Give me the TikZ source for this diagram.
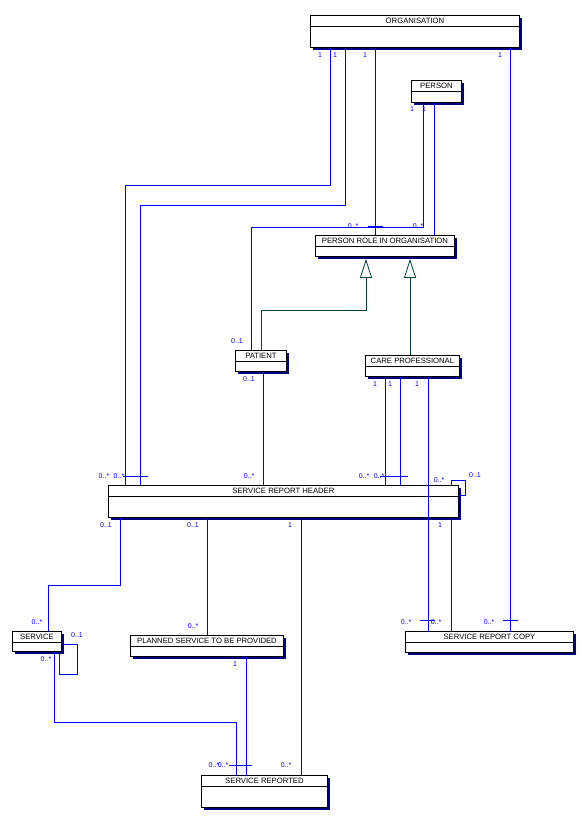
\documentclass[tikz,border=0pt]{standalone}
\usepackage{fontspec}
\setmainfont{Liberation Sans}
\usetikzlibrary{arrows.meta, shadows}
\definecolor{myblue}{RGB}{0,0,255}
\definecolor{mynavy}{RGB}{0,0,128}
\definecolor{myteal}{RGB}{0,64,64}
\tikzset{
  entity/.style={rectangle, draw=black, fill=white, line width=0.9pt,
    inner sep=0pt, anchor=north west,
    drop shadow={shadow xshift=3pt, shadow yshift=-3pt, fill=mynavy, opacity=1}},
  hdrline/.style={line width=0.9pt, color=black},
  etitle/.style={font=\fontsize{7.7}{8}\selectfont, inner sep=0pt},
  assoc/.style={line width=0.8pt, color=myblue},
  genline/.style={line width=0.8pt, color=myteal,
    -{Triangle[open, length=19pt, width=12pt]}, shorten >=2pt},
  mult/.style={font=\fontsize{7}{8}\selectfont, text=myblue, inner sep=0pt},
  tickbar/.style={line width=0.8pt, color=myblue}
}

\begin{document}
\begin{tikzpicture}[x=1pt, y=-1pt]
  \useasboundingbox (0,0) rectangle (586,821);

  % Classes
  \foreach \n/\x/\y/\w/\h/\t in {
      org/310/15/209/32/ORGANISATION,
      person/411/80/50/22/PERSON,
      prio/315/235/139/21/PERSON ROLE IN ORGANISATION,
      patient/235/350/51/21/PATIENT,
      carepro/365/355/94/21/CARE PROFESSIONAL,
      srh/108/485/350/32/SERVICE REPORT HEADER,
      service/12/631/49/20/SERVICE,
      planned/130/635/153/21/PLANNED SERVICE TO BE PROVIDED,
      reported/201/775/126/32/SERVICE REPORTED,
      copy/405/631/168/21/SERVICE REPORT COPY} {
    \node[entity, minimum width=\w, minimum height=\h] (\n) at (\x,\y) {};
    \draw[hdrline] ([yshift=-11pt]\n.north west) -- ([yshift=-11pt]\n.north east);
    \node[etitle] (\n-t) at ([yshift=-5.5pt]\n.north) {\t};
  }

  % Generalisation
  \draw[genline] (261,0 |- patient.north) |- (366,310) -- (366,0 |- prio.south);
  \draw[genline] (410,0 |- carepro.north) -- (410,0 |- prio.south);

  % Associations from ORGANISATION and PERSON
  \draw[assoc] (330,0 |- org.south) |- (125,185) -- (125,0 |- srh.north);
  \draw[assoc] (345,0 |- org.south) |- (140,205) -- (140,0 |- srh.north);
  \draw[assoc] (375,0 |- org.south) -- (375,0 |- prio.north);
  \draw[assoc] (510,0 |- org.south) -- (510,0 |- copy.north);
  \draw[assoc] (423,0 |- person.south) |- (251,227) -- (251,0 |- patient.north);
  \draw[assoc] (434,0 |- person.south) -- (434,0 |- prio.north);

  % Associations to SERVICE REPORT HEADER
  \draw[assoc] (263,0 |- patient.south) -- (263,0 |- srh.north);
  \draw[assoc] (385,0 |- carepro.south) -- (385,0 |- srh.north);
  \draw[assoc] (400,0 |- carepro.south) -- (400,0 |- srh.north);
  \draw[assoc] (428,0 |- carepro.south) -- (428,0 |- copy.north);
  \draw[assoc] (451,0 |- srh.north) |- (465,480) |- (srh.east |- 0,495);

  % Associations from SERVICE REPORT HEADER
  \draw[assoc] (451,0 |- srh.south) -- (451,0 |- copy.north);
  \draw[assoc] (120,0 |- srh.south) |- (48,585) -- (48,0 |- service.north);
  \draw[assoc] (207,0 |- srh.south) -- (207,0 |- planned.north);
  \draw[assoc] (301,0 |- srh.south) -- (301,0 |- reported.north);

  % SERVICE and SERVICE REPORTED
  \draw[assoc] (service.east |- 0,644) -| (77,674) -| (59,0 |- service.south);
  \draw[assoc] (54,0 |- service.south) |- (236,722) -- (236,0 |- reported.north);
  \draw[assoc] (246,0 |- planned.south) -- (246,0 |- reported.north);

  % Tick bars
  \foreach \xa/\xb/\y in {123/148/476, 380/408/476, 368/383/226.5,
      503/518/620, 420/435/620, 229/252/765}
    \draw[tickbar] (\xa,\y) -- (\xb,\y);

  % Multiplicities
  \foreach \t/\x/\y [count=\i] in {
      1/320/55, 1/335/55, 1/365/55, 1/500/55,
      1/412/109, 1/424/109,
      0..*/353/226, 0..*/418/226,
      0..1/237/341, 0..1/249/379,
      1/375/384, 1/390/384, 1/417/384,
      0..*/104/476, 0..*/119/476, 0..*/249/476, 0..*/364/476, 0..*/379/476,
      0..*/439/480, 0..1/475/475,
      0..1/106/525, 0..1/193/525, 1/290/525, 1/440/525,
      0..*/37/622, 0..1/77/635, 0..*/46/659, 0..*/193/626, 1/235/664,
      0..*/406/622, 0..*/436/622, 0..*/489/622,
      0..*/214/765, 0..*/223/765, 0..*/286/765}
    \node[mult] (m\i) at (\x,\y) {\t};
\end{tikzpicture}
\end{document}
